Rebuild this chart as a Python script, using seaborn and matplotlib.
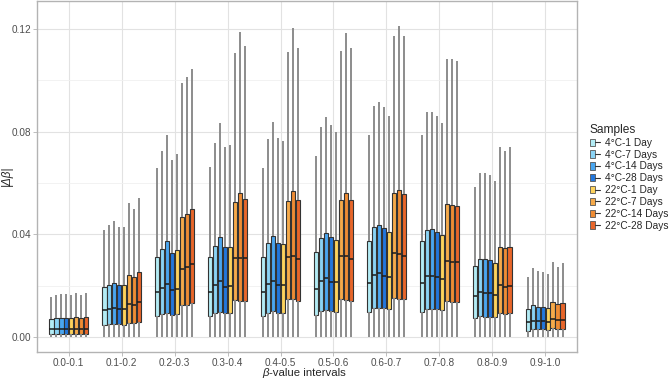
import numpy as np
import pandas as pd
import matplotlib
matplotlib.use("Agg")
import matplotlib.pyplot as plt
from matplotlib.patches import Patch
from matplotlib.lines import Line2D
from matplotlib.legend_handler import HandlerTuple
from matplotlib.ticker import MultipleLocator
import seaborn as sns

# beta-value intervals (x categories)
intervals = ["0.0-0.1", "0.1-0.2", "0.2-0.3", "0.3-0.4", "0.4-0.5",
             "0.5-0.6", "0.6-0.7", "0.7-0.8", "0.8-0.9", "0.9-1.0"]
# samples (hue)
samples = ["4°C-1 Day", "4°C-7 Days", "4°C-14 Days", "4°C-28 Days",
           "22°C-1 Day", "22°C-7 Days", "22°C-14 Days", "22°C-28 Days"]
colors = ["#b3ecf5", "#8ad3f5", "#4aa6f0", "#2277dd",
          "#fdd25c", "#f6aa4a", "#ef8c34", "#e8662a"]

# box statistics, one row per interval, one column per sample
whisker_low = 0.0
whisker_high = [
    [0.0158, 0.0166, 0.0168, 0.0168, 0.0163, 0.0171, 0.0166, 0.0171],
    [0.0417, 0.0437, 0.0451, 0.0428, 0.0428, 0.0523, 0.0498, 0.0540],
    [0.0657, 0.0724, 0.0787, 0.0689, 0.0712, 0.0988, 0.1011, 0.1044],
    [0.0663, 0.0754, 0.0832, 0.0741, 0.0748, 0.1107, 0.1186, 0.1133],
    [0.0660, 0.0771, 0.0836, 0.0776, 0.0762, 0.1108, 0.1203, 0.1124],
    [0.0706, 0.0817, 0.0858, 0.0824, 0.0797, 0.1114, 0.1182, 0.1125],
    [0.0787, 0.0899, 0.0916, 0.0894, 0.0861, 0.1173, 0.1210, 0.1172],
    [0.0787, 0.0876, 0.0876, 0.0861, 0.0835, 0.1083, 0.1082, 0.1076],
    [0.0583, 0.0640, 0.0638, 0.0631, 0.0609, 0.0741, 0.0726, 0.0741],
    [0.0236, 0.0268, 0.0258, 0.0253, 0.0246, 0.0293, 0.0272, 0.0288],
]
q3 = [
    [0.0070, 0.0074, 0.0074, 0.0074, 0.0074, 0.0078, 0.0074, 0.0078],
    [0.0194, 0.0205, 0.0210, 0.0202, 0.0202, 0.0243, 0.0233, 0.0253],
    [0.0311, 0.0343, 0.0373, 0.0327, 0.0338, 0.0469, 0.0479, 0.0498],
    [0.0313, 0.0356, 0.0391, 0.0350, 0.0352, 0.0527, 0.0560, 0.0537],
    [0.0311, 0.0366, 0.0395, 0.0366, 0.0362, 0.0531, 0.0569, 0.0534],
    [0.0333, 0.0387, 0.0407, 0.0389, 0.0378, 0.0534, 0.0560, 0.0534],
    [0.0373, 0.0428, 0.0436, 0.0424, 0.0409, 0.0562, 0.0573, 0.0557],
    [0.0373, 0.0417, 0.0420, 0.0408, 0.0397, 0.0517, 0.0514, 0.0512],
    [0.0278, 0.0304, 0.0303, 0.0301, 0.0290, 0.0352, 0.0346, 0.0352],
    [0.0109, 0.0124, 0.0119, 0.0117, 0.0113, 0.0136, 0.0129, 0.0133],
]
median = [
    [0.0031, 0.0032, 0.0032, 0.0032, 0.0031, 0.0033, 0.0032, 0.0033],
    [0.0106, 0.0110, 0.0113, 0.0109, 0.0109, 0.0129, 0.0124, 0.0136],
    [0.0175, 0.0193, 0.0207, 0.0184, 0.0189, 0.0267, 0.0272, 0.0284],
    [0.0177, 0.0202, 0.0218, 0.0197, 0.0201, 0.0307, 0.0307, 0.0307],
    [0.0175, 0.0206, 0.0219, 0.0203, 0.0203, 0.0311, 0.0316, 0.0304],
    [0.0187, 0.0219, 0.0229, 0.0216, 0.0214, 0.0316, 0.0316, 0.0306],
    [0.0210, 0.0242, 0.0249, 0.0240, 0.0236, 0.0327, 0.0323, 0.0316],
    [0.0210, 0.0238, 0.0238, 0.0233, 0.0226, 0.0298, 0.0292, 0.0292],
    [0.0161, 0.0175, 0.0173, 0.0171, 0.0166, 0.0203, 0.0197, 0.0199],
    [0.0059, 0.0063, 0.0063, 0.0063, 0.0061, 0.0070, 0.0067, 0.0067],
]
q1 = [
    [0.0013, 0.0014, 0.0014, 0.0014, 0.0013, 0.0014, 0.0014, 0.0014],
    [0.0048, 0.0052, 0.0052, 0.0052, 0.0048, 0.0057, 0.0054, 0.0061],
    [0.0083, 0.0091, 0.0096, 0.0086, 0.0089, 0.0126, 0.0126, 0.0132],
    [0.0083, 0.0093, 0.0100, 0.0093, 0.0093, 0.0145, 0.0141, 0.0141],
    [0.0083, 0.0096, 0.0103, 0.0096, 0.0096, 0.0148, 0.0148, 0.0142],
    [0.0087, 0.0102, 0.0106, 0.0102, 0.0100, 0.0149, 0.0145, 0.0141],
    [0.0097, 0.0113, 0.0113, 0.0113, 0.0109, 0.0154, 0.0149, 0.0149],
    [0.0097, 0.0109, 0.0111, 0.0109, 0.0106, 0.0141, 0.0136, 0.0136],
    [0.0074, 0.0083, 0.0080, 0.0080, 0.0078, 0.0093, 0.0091, 0.0093],
    [0.0026, 0.0031, 0.0031, 0.0031, 0.0028, 0.0035, 0.0032, 0.0032],
]

# build long-form table: 5 points per box so quartiles come out exact
rows = []
for i, iv in enumerate(intervals):
    for j, s in enumerate(samples):
        for v in (whisker_low, q1[i][j], median[i][j], q3[i][j], whisker_high[i][j]):
            rows.append((iv, s, v))
df = pd.DataFrame(rows, columns=["interval", "sample", "delta"])

sns.set_style("white")
plt.rcParams['font.family'] = ['Liberation Sans', 'DejaVu Sans']

W, H = 669, 379
fig = plt.figure(figsize=(W/100, H/100), dpi=100)
ax = fig.add_axes([37/W, 1-352/H, 540/W, 351/H])

sns.boxplot(data=df, x="interval", y="delta", hue="sample",
            order=intervals, hue_order=samples, palette=colors,
            saturation=1, whis=np.inf, width=0.75, gap=0.12,
            showfliers=False, showcaps=False,
            linewidth=0.8, linecolor="#333333",
            whiskerprops=dict(color="#8c8c8c", linewidth=1.4),
            medianprops=dict(color="#1a1a1a", linewidth=1.1),
            legend=False, ax=ax)

# ggplot theme_light look
ax.set_xlim(-0.6, 9.6)
ax.set_ylim(-0.0057, 0.1308)
ax.yaxis.set_minor_locator(MultipleLocator(0.02))
ax.set_yticks([0.00, 0.04, 0.08, 0.12])
ax.set_yticklabels(["0.00", "0.04", "0.08", "0.12"])
ax.set_axisbelow(True)
ax.grid(True, which="major", color="#e2e2e2", linewidth=0.8)
ax.yaxis.grid(True, which="minor", color="#f0f0f0", linewidth=0.6)
for sp in ax.spines.values():
    sp.set_visible(True)
    sp.set_color("#b3b3b3")
    sp.set_linewidth(1.0)
ax.tick_params(axis="both", which="major", length=3, width=0.6, color="#b3b3b3",
               labelsize=7.2, labelcolor="#4d4d4d", pad=1.5, bottom=True, left=True)
ax.tick_params(axis="x", which="major", pad=1.0)
ax.tick_params(axis="y", which="minor", length=0)

ax.set_xlabel("")
ax.set_ylabel("")
# x title: italic beta followed by plain text, drawn as two pieces
t1 = fig.text(307/W, 1-376/H, "-value intervals", fontsize=8.2,
              ha="center", va="baseline")
fig.canvas.draw()
bb = t1.get_window_extent()
fig.text(bb.x0 / (W), 1-376/H, "β", fontsize=8.2, style="italic",
         ha="right", va="baseline")
fig.text(7/W, 1-176/H, "|Δβ|", fontsize=8.4, style="italic",
         rotation=90, ha="center", va="center")

handles = [(Patch(facecolor=c, edgecolor="#555555", linewidth=0.6),
            Line2D([], [], color="#333333", linewidth=0.8)) for c in colors]
leg = fig.legend(handles, samples, handler_map={tuple: HandlerTuple(ndivide=None)},
                 title="Samples", loc="upper left", bbox_to_anchor=(590/W, 1-124/H),
                 frameon=False, fontsize=7.3, title_fontsize=8.6,
                 handlelength=1.0, handleheight=0.75, labelspacing=0.18,
                 handletextpad=0.45, borderaxespad=0, borderpad=0)
leg._legend_box.align = "left"

fig.savefig("out.png", dpi=100)
